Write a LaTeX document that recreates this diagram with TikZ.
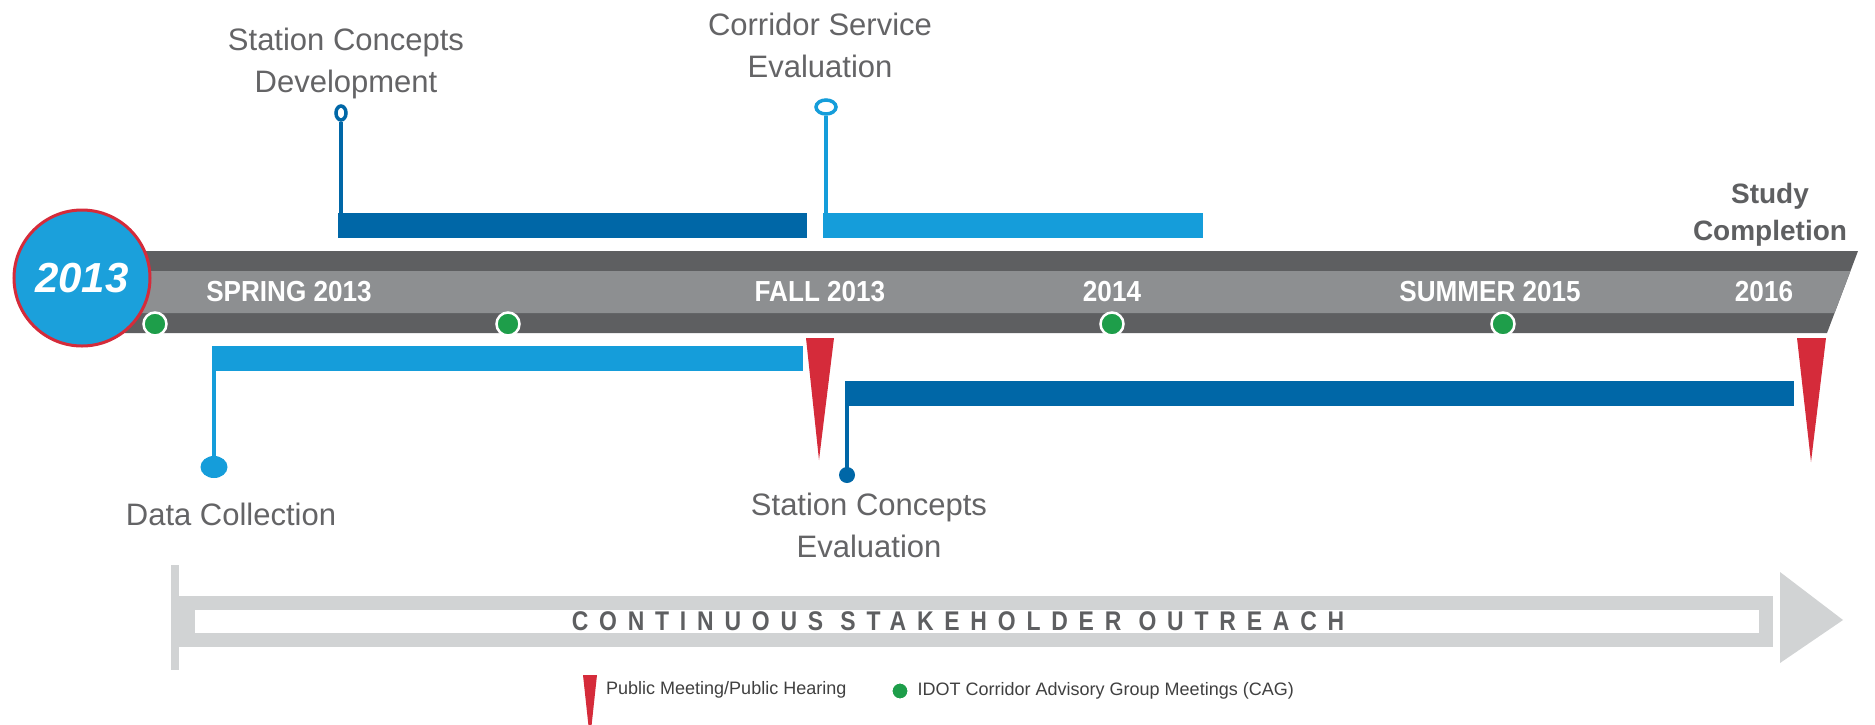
\documentclass[tikz,border=0pt]{standalone}
\usepackage{fontspec}
\setmainfont{Liberation Sans}
\usetikzlibrary{positioning,shapes.geometric}

\definecolor{banddark}{RGB}{94,95,97}
\definecolor{bandlight}{RGB}{141,143,145}
\definecolor{darkblue}{RGB}{0,103,167}
\definecolor{lightblue}{RGB}{21,157,218}
\definecolor{yearblue}{RGB}{27,160,219}
\definecolor{markred}{RGB}{213,43,58}
\definecolor{cagreen}{RGB}{30,158,74}
\definecolor{labelgray}{RGB}{100,100,102}
\definecolor{outgray}{RGB}{209,211,212}

\tikzset{
  phase/.style={font=\fontsize{31}{42}\selectfont, text=labelgray, align=center, inner sep=0pt},
  season/.style={font=\fontsize{29}{29}\selectfont\bfseries\addfontfeature{FakeStretch=0.9}, text=white, inner sep=0pt},
  cag/.style={circle, fill=cagreen, draw=white, line width=2.5pt, minimum size=23pt, inner sep=0pt},
  bar/.style={rectangle, anchor=north west, minimum height=25pt, inner sep=0pt, outer sep=0pt},
  stem/.style={line width=4pt},
}

\begin{document}
\begin{tikzpicture}[x=1pt, y=-1pt]
\useasboundingbox[fill=white] (0,0) rectangle (1875,724);

% Timeline band
\fill[banddark] (110,251) -- (1858,251) -- (1827,333) -- (110,333) -- cycle;
\fill[bandlight] (110,271) -- (1850.4,271) -- (1834.5,313) -- (110,313) -- cycle;

\node[circle, fill=yearblue, draw=markred, line width=3pt, minimum size=136pt, inner sep=0pt,
  text=white, font=\fontsize{42}{42}\selectfont\bfseries\itshape] (start) at (82,278) {2013};

\node[season] (spring) at (289,292) {SPRING 2013};
\node[season] (fall) at (820,292) {FALL 2013};
\node[season] (y2014) at (1112,292) {2014};
\node[season] (summer) at (1490,292) {SUMMER 2015};
\node[season] (y2016) at (1764,292) {2016};

\node[cag] (cag1) at (155,324) {};
\node[cag] (cag2) at (508,324) {};
\node[cag] (cag3) at (1112,324) {};
\node[cag] (cag4) at (1503,324) {};

% Public meetings
\fill[markred] (806,338) -- (834,338) -- (819,460) -- cycle;
\fill[markred] (1797,338) -- (1826,338) -- (1811,462) -- cycle;

% Phases above the band
\node[bar, fill=darkblue, minimum width=469pt] (devbar) at (338,213) {};
\node[bar, fill=lightblue, minimum width=380pt] (corbar) at (823,213) {};
\node[ellipse, draw=darkblue, fill=white, line width=3.5pt, minimum width=10pt, minimum height=14pt, inner sep=0pt] (devdot) at (341,113) {};
\node[ellipse, draw=lightblue, fill=white, line width=3.5pt, minimum width=20pt, minimum height=14pt, inner sep=0pt] (cordot) at (826,107) {};
\draw[stem, darkblue] (devdot.south) -- (devdot |- devbar.center);
\draw[stem, lightblue] (cordot.south) -- (cordot |- corbar.center);
\node[phase, anchor=base] (devlabel) at (346,92) {Station Concepts\\Development};
\node[phase, anchor=base] (corlabel) at (820,77) {Corridor Service\\Evaluation};

% Phases below the band
\node[bar, fill=lightblue, minimum width=591pt] (databar) at (212,346) {};
\node[bar, fill=darkblue, minimum width=949pt] (evalbar) at (845,381) {};
\node[ellipse, fill=lightblue, minimum width=27pt, minimum height=22pt, inner sep=0pt] (datadot) at (214,467) {};
\node[circle, fill=darkblue, minimum size=16pt, inner sep=0pt] (evaldot) at (847,475) {};
\draw[stem, lightblue] (datadot.center) -- (datadot |- databar.center);
\draw[stem, darkblue] (evaldot.center) -- (evaldot |- evalbar.center);
\node[phase, anchor=base] (datalabel) at (231,525) {Data Collection};
\node[phase, anchor=base] (evallabel) at (869,557) {Station Concepts\\Evaluation};

\node[font=\fontsize{28}{37}\selectfont\bfseries, text=banddark, align=center, inner sep=0pt, anchor=base]
  (endlabel) at (1770,240) {Study\\Completion};

% Stakeholder outreach
\fill[outgray] (171,565) rectangle (179,670);
\fill[outgray] (179,596) rectangle (1773,647);
\fill[white] (195,610) rectangle (1759,633);
\fill[outgray] (1780,572) -- (1843,620) -- (1780,663) -- cycle;
\node[font=\fontsize{27}{27}\selectfont\bfseries\addfontfeature{FakeStretch=0.85,LetterSpace=40}, text=banddark, inner sep=0pt]
  (outreach) at (958,621) {CONTINUOUS STAKEHOLDER OUTREACH};

% Legend
\fill[markred] (583,675) -- (597,675) -- (590,740) -- cycle;
\node[font=\fontsize{18}{18}\selectfont, text=black!75, anchor=west, inner sep=0pt] (pubkey) at (606,690) {Public Meeting/Public Hearing};
\node[cag, minimum size=17pt, line width=2pt] (cagdot) at (900,691) {};
\node[font=\fontsize{18}{18}\selectfont, text=black!75, anchor=west, inner sep=0pt, right=8pt of cagdot] (cagkey) {IDOT Corridor Advisory Group Meetings (CAG)};

\end{tikzpicture}
\end{document}
